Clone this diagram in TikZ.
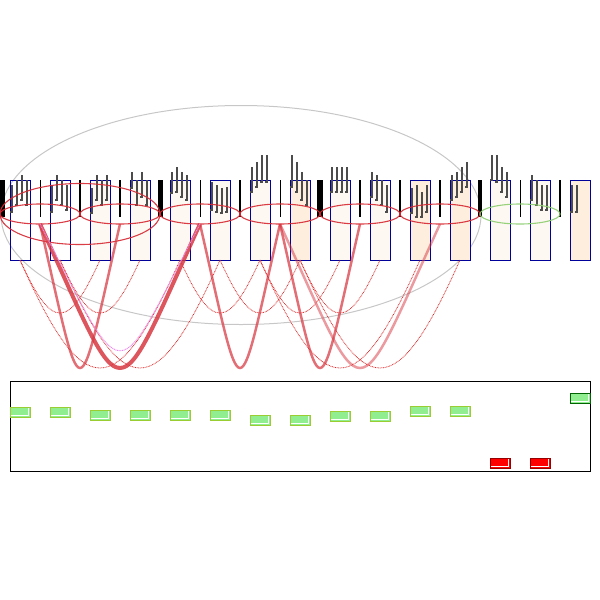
\documentclass[tikz,border=0pt]{standalone}
\usetikzlibrary{shapes.geometric,calc}
\definecolor{boxblue}{RGB}{0,0,155}
\definecolor{fillA}{RGB}{253,248,242}
\definecolor{fillB}{RGB}{253,238,222}
\definecolor{ellred}{RGB}{215,40,50}
\definecolor{ellgreen}{RGB}{140,205,110}
\definecolor{arcred}{RGB}{215,55,65}
\definecolor{dotred}{RGB}{225,40,40}
\definecolor{pinkv}{RGB}{235,140,235}
\definecolor{lgreen}{RGB}{144,238,144}
\definecolor{ygreen}{RGB}{154,205,50}
\definecolor{dgreen}{RGB}{0,100,0}
\definecolor{dred}{RGB}{150,0,0}
\tikzset{
 bbox/.style={draw=boxblue, line width=0.9pt, minimum width=20pt, minimum height=80pt, inner sep=0pt, outer sep=0pt},
 ell/.style={ellipse, draw=ellred, line width=1.1pt, inner sep=0pt, outer sep=0pt, draw opacity=0.9},
 stk/.style={draw=gray!60!black, line width=1.2pt},
 solidarc/.style={draw=arcred, line width=2.5pt, draw opacity=0.72},
 dotarc/.style={draw=dotred, line width=0.8pt, dash pattern=on 0.8pt off 0.8pt},
 mark box/.style={minimum width=20pt, minimum height=10pt, inner sep=0pt, outer sep=0pt, line width=0.9pt,
   path picture={\draw[white,line width=0.7pt]
     ([shift={(-1.6pt,-1.4pt)}]path picture bounding box.north east) --
     ([shift={(-1.6pt,1.6pt)}]path picture bounding box.south east) --
     ([shift={(1.4pt,1.6pt)}]path picture bounding box.south west);}},
 gbox/.style={mark box, fill=lgreen, draw=ygreen},
 dgbox/.style={mark box, fill=lgreen, draw=dgreen},
 rbox/.style={mark box, fill=red, draw=dred},
}
\newcommand\linkarc[4]{\draw[#4] (#1) .. controls ($(#1)!0.55!(#2)+(0,#3)$) and ($(#2)!0.55!(#1)+(0,#3)$) .. (#2);}
\newcommand\dotlink[3]{\draw[dotarc] (#1) .. controls ($(#1)!0.4!(#2)+(0,#3)$) and ($(#2)!0.4!(#1)+(0,#3)$) .. (#2);}
\begin{document}
\begin{tikzpicture}[x=1pt,y=-1pt]
\useasboundingbox (0,0) rectangle (600,600);
% big gray ellipse
\node[ellipse, draw=black!22, line width=1pt, minimum width=480pt, minimum height=219pt, inner sep=0pt] (ge) at (241,215) {};
% boxes
\node[bbox] (b0) at (20,220) {};
\node[bbox] (b1) at (60,220) {};
\node[bbox, fill=fillA] (b2) at (100,220) {};
\node[bbox, fill=fillA] (b3) at (140,220) {};
\node[bbox, fill=fillA] (b4) at (180,220) {};
\node[bbox, fill=fillA] (b5) at (220,220) {};
\node[bbox, fill=fillA] (b6) at (260,220) {};
\node[bbox, fill=fillB] (b7) at (300,220) {};
\node[bbox, fill=fillA] (b8) at (340,220) {};
\node[bbox, fill=fillA] (b9) at (380,220) {};
\node[bbox, fill=fillB] (b10) at (420,220) {};
\node[bbox, fill=fillB] (b11) at (460,220) {};
\node[bbox, fill=fillA] (b12) at (500,220) {};
\node[bbox, fill=fillA] (b13) at (540,220) {};
\node[bbox, fill=fillB] (b14) at (580,220) {};
% black bars
\fill (0,180) rectangle (5,217);
\foreach \x/\w in {40/1,80/2,120/1.5,160/5,200/1,240/2,280/1,320/6,360/1.5,400/1.5,440/2,480/4,520/1,560/2}
  \fill (\x-\w/2,180) rectangle (\x+\w/2,217);
% sticks
\foreach \x/\t/\b in {12/185/212,17/180/205,22/175/200,27/180/205,
  52/185/212,57/175/200,62/180/205,67/185/210,
  92/188/213,97/175/200,102/180/205,107/175/200,
  132/172/188,137/180/205,142/172/197,147/180/205,
  172/172/193,177/167/192,182/172/197,187/175/200,
  212/182/210,217/185/212,222/188/213,227/187/212,
  252/167/192,257/162/187,262/155/182,267/155/182,
  292/155/187,297/162/192,302/172/200,307/180/205,
  332/167/192,337/167/192,342/167/192,347/167/192,
  372/172/197,377/175/200,382/180/205,387/185/212,
  412/188/213,417/185/217,422/192/217,427/185/212,
  452/175/200,457/172/197,462/167/192,467/162/187,
  492/155/180,497/155/182,502/167/192,507/172/197,
  532/175/200,537/180/205,542/185/210,547/185/210,
  572/185/212,577/185/212}
  \draw[stk] (\x,\t) -- (\x,\b) -- ++(-2,0);
% red ellipses
\node[ell, minimum width=160pt, minimum height=61pt] (E) at (80,214) {};
\node[ell, minimum width=80pt, minimum height=20pt] (e1) at (40,214) {};
\node[ell, minimum width=80pt, minimum height=20pt] (e2) at (120,214) {};
\node[ell, minimum width=80pt, minimum height=20pt] (e3) at (200,214) {};
\node[ell, minimum width=80pt, minimum height=20pt] (e4) at (280,214) {};
\node[ell, minimum width=80pt, minimum height=20pt] (e5) at (360,214) {};
\node[ell, minimum width=80pt, minimum height=20pt] (e6) at (440,214) {};
\node[ell, draw=ellgreen, minimum width=80pt, minimum height=20pt] (e7) at (520,214) {};
% dotted arcs
\dotlink{b0.south}{b2.south}{70.7}
\dotlink{b1.south}{b3.south}{70.7}
\dotlink{b4.south}{b6.south}{70.7}
\dotlink{b5.south}{b7.south}{70.7}
\dotlink{b6.south}{b8.south}{70.7}
\dotlink{b7.south}{b9.south}{70.7}
\dotlink{b0.south}{b4.south}{144}
\dotlink{b1.south}{b5.south}{144}
\dotlink{b6.south}{b10.south}{144}
\dotlink{b7.south}{b11.south}{144}
% solid arcs
\linkarc{e4.south}{e6.south}{192}{solidarc, draw opacity=0.5}
\linkarc{e1.south}{e2.south}{192}{solidarc}
\linkarc{e3.south}{e4.south}{192}{solidarc}
\linkarc{e4.south}{e5.south}{192}{solidarc}
\linkarc{e1.south}{e3.south}{192}{solidarc, line width=4pt, draw opacity=0.85}
\linkarc{e1.south}{e3.south}{169}{draw=pinkv, line width=1pt, dash pattern=on 1pt off 0.7pt}
% lower panel
\node[draw=black, line width=0.8pt, minimum width=580pt, minimum height=90pt, inner sep=0pt] (panel) at (300,426) {};
\node[gbox] (g0) at (20,412) {};
\node[gbox] (g1) at (60,412) {};
\node[gbox] (g2) at (100,415) {};
\node[gbox] (g3) at (140,415) {};
\node[gbox] (g4) at (180,415) {};
\node[gbox] (g5) at (220,415) {};
\node[gbox] (g6) at (260,420) {};
\node[gbox] (g7) at (300,420) {};
\node[gbox] (g8) at (340,416) {};
\node[gbox] (g9) at (380,416) {};
\node[gbox] (g10) at (420,411) {};
\node[gbox] (g11) at (460,411) {};
\node[rbox] (r12) at (500,463) {};
\node[rbox] (r13) at (540,463) {};
\node[dgbox] (g14) at (580,398) {};
\end{tikzpicture}
\end{document}
